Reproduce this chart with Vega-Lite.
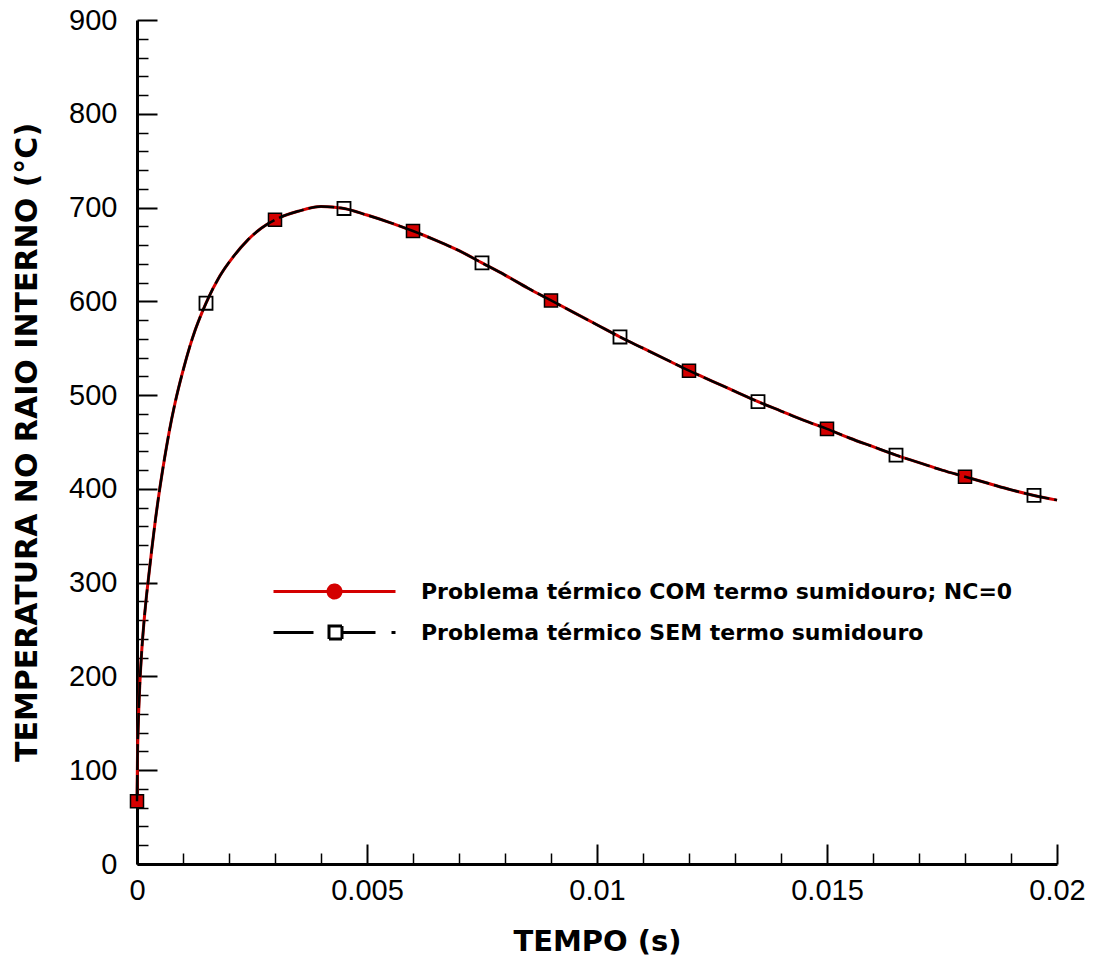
{
  "$schema": "https://vega.github.io/schema/vega-lite/v6.json",
  "width": 920,
  "height": 844,
  "autosize": {"type": "none"},
  "padding": {"left": 137, "top": 20, "right": 39, "bottom": 101},
  "background": "white",
  "config": {
    "view": {"stroke": null},
    "axis": {
      "domainColor": "black", "domainWidth": 3, "tickColor": "black", "grid": false,
      "labelFont": "Liberation Sans", "labelFontSize": 29, "labelColor": "black",
      "titleFont": "DejaVu Sans", "titleFontWeight": "bold", "titleColor": "black",
      "labelOverlap": false, "labelFlush": false
    }
  },
  "datasets": {
    "curve": [
      {"t": 0, "T": 67}, {"t": 0.00001, "T": 112}, {"t": 0.00003, "T": 152}, {"t": 0.00006, "T": 190},
      {"t": 0.0001, "T": 225}, {"t": 0.00015, "T": 257}, {"t": 0.0002, "T": 283}, {"t": 0.00025, "T": 305},
      {"t": 0.00032, "T": 335}, {"t": 0.0004, "T": 367}, {"t": 0.0005, "T": 402}, {"t": 0.0006, "T": 433},
      {"t": 0.0007, "T": 461}, {"t": 0.00082, "T": 490}, {"t": 0.001, "T": 526}, {"t": 0.0012, "T": 560},
      {"t": 0.0015, "T": 598}, {"t": 0.0018, "T": 627}, {"t": 0.0021, "T": 648}, {"t": 0.0024, "T": 665},
      {"t": 0.0027, "T": 678}, {"t": 0.003, "T": 687}, {"t": 0.0035, "T": 696}, {"t": 0.004, "T": 701},
      {"t": 0.0045, "T": 699}, {"t": 0.005, "T": 692}, {"t": 0.0055, "T": 684}, {"t": 0.006, "T": 675},
      {"t": 0.0065, "T": 665}, {"t": 0.007, "T": 654}, {"t": 0.0075, "T": 641}, {"t": 0.008, "T": 628},
      {"t": 0.0085, "T": 614}, {"t": 0.009, "T": 601}, {"t": 0.0095, "T": 588}, {"t": 0.01, "T": 575},
      {"t": 0.0105, "T": 562}, {"t": 0.011, "T": 550}, {"t": 0.0115, "T": 538}, {"t": 0.012, "T": 526},
      {"t": 0.0125, "T": 515}, {"t": 0.013, "T": 504}, {"t": 0.0135, "T": 493}, {"t": 0.014, "T": 483},
      {"t": 0.0145, "T": 473}, {"t": 0.015, "T": 464}, {"t": 0.0155, "T": 454}, {"t": 0.016, "T": 445},
      {"t": 0.0165, "T": 436}, {"t": 0.017, "T": 428}, {"t": 0.0175, "T": 420}, {"t": 0.018, "T": 413},
      {"t": 0.0185, "T": 406}, {"t": 0.019, "T": 399}, {"t": 0.0195, "T": 393}, {"t": 0.02, "T": 388}
    ],
    "comMarkers": [
      {"t": 0, "T": 67}, {"t": 0.003, "T": 687}, {"t": 0.006, "T": 675}, {"t": 0.009, "T": 601},
      {"t": 0.012, "T": 526}, {"t": 0.015, "T": 464}, {"t": 0.018, "T": 413}
    ],
    "semMarkers": [
      {"t": 0.0015, "T": 598}, {"t": 0.0045, "T": 699}, {"t": 0.0075, "T": 641}, {"t": 0.0105, "T": 562},
      {"t": 0.0135, "T": 493}, {"t": 0.0165, "T": 436}, {"t": 0.0195, "T": 393}
    ]
  },
  "resolve": {"axis": {"x": "independent", "y": "independent"}},
  "layer": [
    {
      "data": {"name": "curve"},
      "mark": {"type": "line", "strokeWidth": 3, "interpolate": "monotone"},
      "encoding": {
        "x": {"field": "t", "type": "quantitative", "scale": {"domain": [0, 0.02], "nice": false},
          "axis": {"title": "TEMPO (s)", "titleFontSize": 29, "titlePadding": 22, "values": [0, 0.005, 0.01, 0.015, 0.02], "format": "~g", "tickSize": -20, "tickWidth": 2, "labelPadding": 32, "orient": "bottom"}},
        "y": {"field": "T", "type": "quantitative", "scale": {"domain": [0, 900], "nice": false},
          "axis": {"title": "TEMPERATURA NO RAIO INTERNO (°C)", "titleFontSize": 30, "titlePadding": 26, "values": [0, 100, 200, 300, 400, 500, 600, 700, 800, 900], "format": "d", "tickSize": -20, "tickWidth": 2, "labelPadding": 40, "orient": "left"}},
        "color": {
          "datum": "Problema térmico COM termo sumidouro; NC=0",
          "type": "nominal",
          "scale": {"domain": ["Problema térmico COM termo sumidouro; NC=0", "Problema térmico SEM termo sumidouro"], "range": ["#d40000", "black"]},
          "legend": {
            "title": null, "orient": "none", "legendX": 186, "legendY": 560, "padding": 0,
            "labelFont": "DejaVu Sans", "labelFontWeight": "bold", "labelFontSize": 22, "labelColor": "black",
            "labelLimit": 0,
            "labelOffset": 75, "rowPadding": 16, "symbolSize": 400, "symbolStrokeWidth": 3,
            "encode": {
              "symbols": {
                "update": {
                  "shape": {"signal": "datum.value === 'Problema térmico COM termo sumidouro; NC=0' ? 'M-6.1,0L6.1,0M0.65,0A0.65,0.65,0,1,1,-0.65,0A0.65,0.65,0,1,1,0.65,0Z' : 'M-6.1,0L-2.1,0M-0.55,-0.65L0.75,-0.65L0.75,0.65L-0.55,0.65ZM0.75,0L4.1,0M5.7,0L6.1,0'"},
                  "fill": {"signal": "datum.value === 'Problema térmico COM termo sumidouro; NC=0' ? '#d40000' : 'white'"},
                  "stroke": {"signal": "datum.value === 'Problema térmico COM termo sumidouro; NC=0' ? '#d40000' : 'black'"},
                  "strokeDash": {"value": [1, 0]},
                  "strokeWidth": {"value": 3},
                  "size": {"value": 400},
                  "opacity": {"value": 1},
                  "fillOpacity": {"value": 1}
                }
              }
            }
          }
        }
      }
    },
    {
      "data": {"name": "comMarkers"},
      "mark": {"type": "point", "shape": "square", "filled": true, "fill": "#d40000", "stroke": "black", "strokeWidth": 1.5, "size": 170, "opacity": 1},
      "encoding": {
        "x": {"field": "t", "type": "quantitative", "axis": null},
        "y": {"field": "T", "type": "quantitative", "axis": null}
      }
    },
    {
      "data": {"name": "curve"},
      "mark": {"type": "line", "strokeWidth": 2.5, "strokeDash": [26, 5], "interpolate": "monotone"},
      "encoding": {
        "x": {"field": "t", "type": "quantitative", "axis": {"values": [0.001, 0.002, 0.003, 0.004, 0.006, 0.007, 0.008, 0.009, 0.011, 0.012, 0.013, 0.014, 0.016, 0.017, 0.018, 0.019], "labels": false, "domain": false, "title": null, "tickSize": -11, "tickWidth": 1.5, "orient": "bottom"}},
        "y": {"field": "T", "type": "quantitative", "axis": {"values": [20, 40, 60, 80, 120, 140, 160, 180, 220, 240, 260, 280, 320, 340, 360, 380, 420, 440, 460, 480, 520, 540, 560, 580, 620, 640, 660, 680, 720, 740, 760, 780, 820, 840, 860, 880], "labels": false, "domain": false, "title": null, "tickSize": -11, "tickWidth": 1.5, "orient": "left"}},
        "color": {"datum": "Problema térmico SEM termo sumidouro", "type": "nominal"}
      }
    },
    {
      "data": {"name": "semMarkers"},
      "mark": {"type": "point", "shape": "square", "filled": false, "stroke": "black", "strokeWidth": 1.8, "size": 170, "opacity": 1},
      "encoding": {
        "x": {"field": "t", "type": "quantitative", "axis": null},
        "y": {"field": "T", "type": "quantitative", "axis": null}
      }
    }
  ]
}
